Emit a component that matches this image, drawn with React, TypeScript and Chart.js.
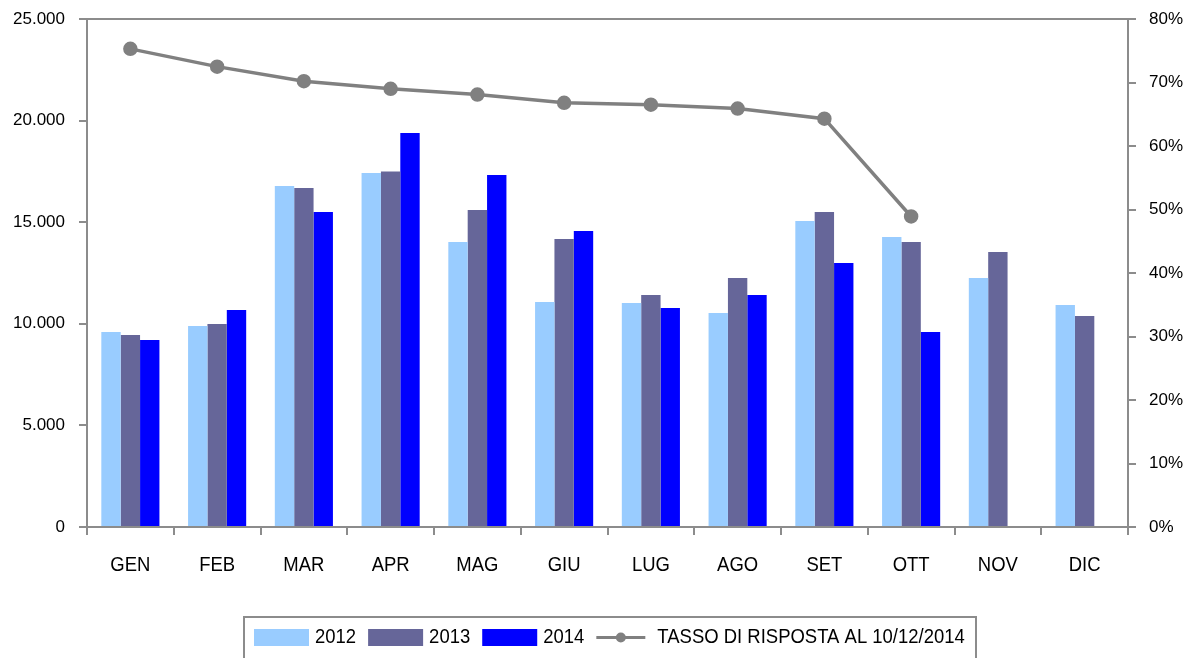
import React, { useEffect, useRef } from "react";
import { Chart, registerables } from "chart.js";

Chart.register(...registerables);

const months = ["GEN", "FEB", "MAR", "APR", "MAG", "GIU", "LUG", "AGO", "SET", "OTT", "NOV", "DIC"];
const values2012 = [9600, 9890, 16780, 17420, 14030, 11070, 11020, 10530, 15060, 14270, 12250, 10920];
const values2013 = [9450, 9990, 16680, 17490, 15600, 14170, 11420, 12250, 15500, 14030, 13530, 10380];
const values2014 = [9200, 10680, 15500, 19390, 17320, 14570, 10780, 11420, 12990, 9600, null, null];
const responseRate = [75.3, 72.5, 70.2, 69.0, 68.1, 66.8, 66.5, 65.9, 64.3, 48.9, null, null];
const leftTicks = [0, 5000, 10000, 15000, 20000, 25000];
const rightTicks = [0, 10, 20, 30, 40, 50, 60, 70, 80];
const seriesLabels = ["2012", "2013", "2014", "TASSO DI RISPOSTA AL 10/12/2014"];

const C2012 = "#99CCFF";
const C2013 = "#666699";
const C2014 = "#0000FF";
const CLINE = "#808080";
const AXIS = "#8c8c8c";
const SANS = "'Liberation Sans', Arial, sans-serif";
const NARROW_SCALE = 0.88;

const fmtThousands = (v: number) => String(v).replace(/\B(?=(\d{3})+(?!\d))/g, ".");

const framePlugin = {
  id: "frame",
  afterDatasetsDraw(chart: any) {
    const { ctx, chartArea } = chart;
    ctx.save();
    ctx.strokeStyle = AXIS;
    ctx.lineWidth = 2;
    ctx.beginPath();
    ctx.moveTo(chartArea.left, chartArea.top);
    ctx.lineTo(chartArea.right, chartArea.top);
    ctx.stroke();
    ctx.restore();
  },
};

const narrowText = (ctx: any, text: string, x: number, y: number, align: "left" | "center") => {
  const w = ctx.measureText(text).width * NARROW_SCALE;
  const left = align === "center" ? x - w / 2 : x;
  ctx.save();
  ctx.translate(left, y);
  ctx.scale(NARROW_SCALE, 1);
  ctx.textAlign = "left";
  ctx.fillText(text, 0, 0);
  ctx.restore();
  return w;
};

const xLabelPlugin = {
  id: "xLabels",
  afterDraw(chart: any) {
    const { ctx } = chart;
    const xs = chart.scales.x;
    ctx.save();
    ctx.font = `21px ${SANS}`;
    ctx.textBaseline = "middle";
    ctx.fillStyle = "#000";
    chart.data.labels.forEach((lab: string, i: number) => {
      narrowText(ctx, lab, xs.getPixelForTick(i), 565, "center");
    });
    ctx.restore();
  },
};

const legendPlugin = {
  id: "customLegend",
  afterDraw(chart: any) {
    const { ctx } = chart;
    const ds = chart.data.datasets;
    ctx.save();
    ctx.strokeStyle = AXIS;
    ctx.lineWidth = 2;
    ctx.strokeRect(244, 617, 732, 60);
    ctx.font = `21px ${SANS}`;
    ctx.textBaseline = "middle";
    let x = 254;
    const cy = 637.5;
    const order = [1, 2, 3, 0];
    order.forEach((i) => {
      const d = ds[i];
      if (d.type === "line") {
        ctx.strokeStyle = d.borderColor;
        ctx.lineWidth = 3;
        ctx.beginPath();
        ctx.moveTo(x, cy);
        ctx.lineTo(x + 49, cy);
        ctx.stroke();
        ctx.fillStyle = d.pointBackgroundColor;
        ctx.beginPath();
        ctx.arc(x + 24.5, cy, 5, 0, Math.PI * 2);
        ctx.fill();
        x += 49 + 12;
      } else {
        ctx.fillStyle = d.backgroundColor;
        ctx.fillRect(x, cy - 8.5, 55, 17);
        x += 55 + 6;
      }
      ctx.fillStyle = "#000";
      x += narrowText(ctx, d.label, x, cy, "left") + 12;
    });
    ctx.restore();
  },
};

const noVPad = (s: any, w: number) => {
  s.width = w;
  s.paddingTop = 0;
  s.paddingBottom = 0;
};

export default function App() {
  const ref = useRef<HTMLCanvasElement>(null);
  useEffect(() => {
    if (!ref.current) return;
    const chart = new Chart(ref.current, {
      type: "bar",
      data: {
        labels: months,
        datasets: [
          {
            type: "line",
            label: seriesLabels[3],
            data: responseRate,
            yAxisID: "y1",
            borderColor: CLINE,
            backgroundColor: CLINE,
            pointBackgroundColor: CLINE,
            pointBorderColor: CLINE,
            borderWidth: 3.5,
            pointRadius: 5.5,
            tension: 0,
            spanGaps: false,
            order: 0,
          } as any,
          { label: seriesLabels[0], data: values2012, backgroundColor: C2012, yAxisID: "y", order: 1 },
          { label: seriesLabels[1], data: values2013, backgroundColor: C2013, yAxisID: "y", order: 1 },
          { label: seriesLabels[2], data: values2014, backgroundColor: C2014, yAxisID: "y", order: 1 },
        ],
      },
      options: {
        responsive: false,
        animation: false,
        layout: { padding: { top: 19, left: 0, right: 0, bottom: 81 } },
        plugins: { legend: { display: false }, tooltip: { enabled: false } },
        datasets: { bar: { categoryPercentage: 0.67, barPercentage: 1.0 } },
        scales: {
          x: {
            offset: true,
            grid: { offset: true, drawOnChartArea: false, drawTicks: true, tickLength: 8, color: AXIS, lineWidth: 2 },
            border: { color: AXIS, width: 2 },
            ticks: { color: "rgba(0,0,0,0)", font: { family: SANS, size: 18 }, padding: 16, maxRotation: 0 },
            afterFit: (s: any) => { s.height = 50; s.paddingLeft = 0; s.paddingRight = 0; },
          },
          y: {
            position: "left",
            min: 0,
            max: 25000,
            afterBuildTicks: (s: any) => { s.ticks = leftTicks.map((v) => ({ value: v })); },
            grid: { drawOnChartArea: false, drawTicks: true, tickLength: 8, color: AXIS, lineWidth: 2 },
            border: { color: AXIS, width: 2 },
            ticks: { color: "#000", font: { family: SANS, size: 17 }, padding: 14, callback: (v: any) => fmtThousands(Number(v)) },
            afterFit: (s: any) => noVPad(s, 87),
          },
          y1: {
            position: "right",
            min: 0,
            max: 80,
            afterBuildTicks: (s: any) => { s.ticks = rightTicks.map((v) => ({ value: v })); },
            grid: { drawOnChartArea: false, drawTicks: true, tickLength: 8, color: AXIS, lineWidth: 2 },
            border: { color: AXIS, width: 2 },
            ticks: { color: "#000", font: { family: SANS, size: 17 }, padding: 13, callback: (v: any) => v + "%" },
            afterFit: (s: any) => noVPad(s, 65),
          },
        },
      },
      plugins: [framePlugin, xLabelPlugin, legendPlugin],
    });
    return () => chart.destroy();
  }, []);
  return (
    <div style={{ position: "absolute", left: 0, top: 0, width: 1193, height: 658, background: "#fff" }}>
      <canvas ref={ref} width={1193} height={658} />
    </div>
  );
}
